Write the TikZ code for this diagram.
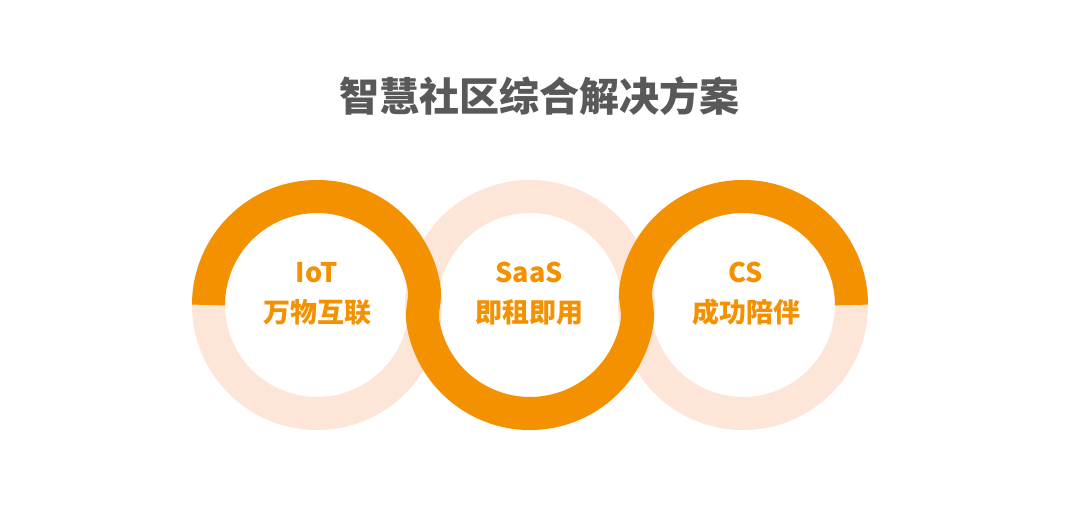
\documentclass[tikz,border=0pt]{standalone}
\usepackage{fontspec}
\newfontfamily\cjk{Noto Sans CJK SC}
\usetikzlibrary{calc}
\definecolor{orangeM}{RGB}{244,145,0}
\definecolor{peach}{RGB}{253,229,216}
\definecolor{titlegray}{RGB}{89,89,89}
\begin{document}
\begin{tikzpicture}[x=1pt,y=1pt,
  ringbg/.style={draw=peach, line width=33pt},
  ringfg/.style={draw=orangeM, line width=33pt, line cap=butt, line join=round},
  titletext/.style={font=\cjk\bfseries\fontsize{40}{48}\selectfont, text=titlegray, inner sep=0pt, anchor=base},
  labeltext/.style={font=\cjk\bfseries\fontsize{27}{32}\selectfont, text=orangeM, inner sep=0pt, anchor=base}]
\useasboundingbox[fill=white] (0,0) rectangle (1080,520);
\coordinate (c1) at (317,215);
\coordinate (c2) at (530,215);
\coordinate (c3) at (743,215);
\foreach \c in {c1,c2,c3} \draw[ringbg] (\c) circle[radius=108.5];
\draw[ringfg] ($(c1)+(180:108.5)$) arc[start angle=180, end angle=10, radius=108.5]
   to[out=-80,in=100] ($(c2)+(190:108.5)$) arc[start angle=190, end angle=350, radius=108.5]
   to[out=80,in=-100] ($(c3)+(170:108.5)$) arc[start angle=170, end angle=0, radius=108.5];
\node[titletext] (title) at (539,408.5) {智慧社区综合解决方案};
\node[labeltext] (l1a) at (317,237) {IoT};
\node[labeltext] (l1b) at (317,197.7) {万物互联};
\node[labeltext] (l2a) at (529,237) {SaaS};
\node[labeltext] (l2b) at (529,197.7) {即租即用};
\node[labeltext] (l3a) at (746,237) {CS};
\node[labeltext] (l3b) at (746,197.7) {成功陪伴};
\end{tikzpicture}
\end{document}
